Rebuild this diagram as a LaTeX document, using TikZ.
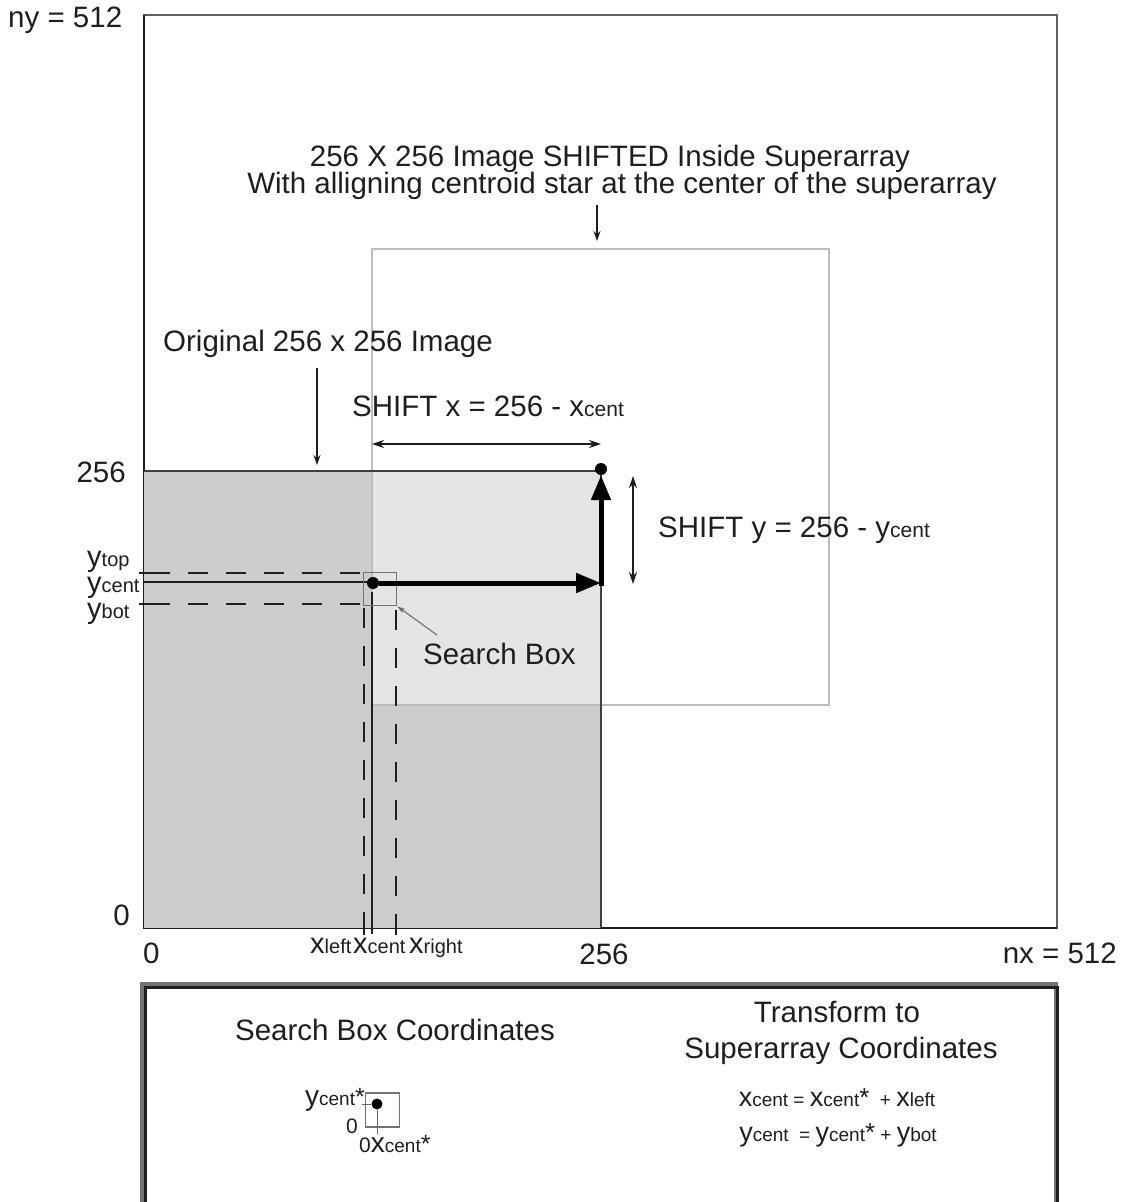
\documentclass[tikz,border=0pt]{standalone}
\usepackage{fontspec}
\setmainfont{Liberation Sans}
\usetikzlibrary{arrows.meta}
\newcommand\myfs[1]{\fontsize{#1}{#1}\selectfont}
\newcommand\msub[1]{{\myfs{20}#1}}
\newcommand\mbig[1]{{\myfs{29}#1}}
\definecolor{txt}{HTML}{1E1E1E}
\definecolor{boxgray}{HTML}{CDCDCD}
\definecolor{overlap}{HTML}{E4E4E4}
\definecolor{shiftline}{HTML}{BDBDBD}
\definecolor{framegray}{HTML}{606060}
\begin{document}
\begin{tikzpicture}[x=1pt,y=-1pt,
  lbl/.style={inner sep=0pt, anchor=base, text=txt, font=\myfs{29.5}},
  thinarrow/.style={line width=1.3pt, draw=txt, -{Stealth[length=10pt,width=7pt]}},
  dblarrow/.style={line width=1.6pt, draw=txt, {Stealth[length=12pt,width=8pt]}-{Stealth[length=12pt,width=8pt]}},
  thickarrow/.style={line width=5pt, draw=black, -{Triangle[length=25pt,width=19pt]}},
  dashthin/.style={line width=1.8pt, draw=txt, dash pattern=on 20pt off 18pt},
  dashthick/.style={line width=2.8pt, draw=txt, dash pattern=on 20pt off 18pt},
  tick/.style={line width=1.8pt, draw=txt},
  dot/.style={circle, fill=black, inner sep=0pt, minimum size=12pt}]
\useasboundingbox (0,0) rectangle (1123,1202);
% outer frame
\draw[line width=2.2pt, framegray] (144,15) rectangle (1057,928);
\draw[line width=2.6pt, txt] (144,15) -- (144,928) -- (1057,928);
% original image
\fill[boxgray] (144,471) rectangle (601,928);
\fill[overlap] (372,471) rectangle (601,705);
% shifted image outline
\draw[line width=2pt, shiftline] (372,249) rectangle (829,705);
% gray box edges
\draw[line width=2.2pt, txt!85] (144,471) -- (601,471) -- (601,928);
% guide lines
\draw[dashthin] (150,573) -- (363,573);
\draw[line width=1.6pt, txt] (144,582) -- (368,582);
\draw[dashthick] (150,604) -- (363,604);
\draw[dashthick] (364,608) -- (364,928);
\draw[line width=1.6pt, txt] (372,592) -- (372,934);
\draw[dashthin] (396,610) -- (396,928);
% ticks
\draw[tick] (139,573) -- (150,573);
\draw[tick] (139,604) -- (150,604);
\draw[tick] (364,915) -- (364,935);
\draw[tick] (396,915) -- (396,935);
% search box
\node[draw=black!55, line width=1.8pt, minimum size=33pt, inner sep=0pt] (sbox) at (380,589) {};
\node[dot] (cdot) at (373,583) {};
\coordinate (hend) at (601,583);
\node[dot] (tdot) at (601,469) {};
\draw[thickarrow] (cdot.east) -- (hend);
\draw[thickarrow] (601,586) -- (tdot.south);
% dimension arrows
\coordinate (dx1) at (372,444);
\coordinate (dx2) at (601,444);
\draw[dblarrow] (dx1) -- (dx2);
\coordinate (dy1) at (633,476);
\coordinate (dy2) at (633,584);
\draw[dblarrow] (dy1) -- (dy2);
% labels
\node[lbl, anchor=base west] (ny) at (8,27) {ny = 512};
\node[lbl] (title1) at (610,166) {256 X 256 Image SHIFTED Inside Superarray};
\node[lbl] (title2) at (622,193) {With alligning centroid star at the center of the superarray};
\coordinate (ta1) at (597,205);
\coordinate (ta2) at (597,241);
\draw[thinarrow] (ta1) -- (ta2);
\node[lbl] (orig) at (328,351) {Original 256 x 256 Image};
\coordinate (oa1) at (317,368);
\coordinate (oa2) at (317,465);
\draw[thinarrow] (oa1) -- (oa2);
\node[lbl, anchor=base west] (shx) at (352,416) {SHIFT x = 256 - x{\myfs{21}cent}};
\node[lbl, anchor=base west] (shy) at (658,537) {SHIFT y = 256 - y{\myfs{21}cent}};
\node[lbl, anchor=base west] (sbl) at (423,664) {Search Box};
\coordinate (sa1) at (437,635);
\draw[line width=1pt, black!60, -{Stealth[length=8pt,width=5pt]}] (sa1) -- (sbox.south east);
\node[lbl, anchor=base east] (l256) at (126,482) {256};
\node[lbl, anchor=base east] (l0) at (130,925) {0};
\node[lbl, anchor=base west] (b0) at (143,963) {0};
\node[lbl] (b256) at (604,964) {256};
\node[lbl, anchor=base east] (nx) at (1117,963) {nx = 512};
\node[lbl, anchor=base west] (ytop) at (87,566) {\mbig{y}\msub{top}};
\node[lbl, anchor=base west] (ycent) at (87,592) {\mbig{y}\msub{cent}};
\node[lbl, anchor=base west] (ybot) at (87,618) {\mbig{y}\msub{bot}};
\node[lbl, anchor=base west] (xleft) at (310,953) {\mbig{x}\msub{left}};
\node[lbl, anchor=base west] (xcent) at (353,953) {\mbig{x}\msub{cent}};
\node[lbl, anchor=base west] (xright) at (409,953) {\mbig{x}\msub{right}};
% bottom box
\draw[line width=4pt, black!55] (142,1206) -- (142,984) -- (1056,984) -- (1056,1206);
\draw[line width=3pt, txt] (145,1206) -- (145,987) -- (1057,987) -- (1057,1206);
\node[lbl] (sbc) at (395,1040) {Search Box Coordinates};
\node[lbl] (tr1) at (837,1022) {Transform to};
\node[lbl] (tr2) at (841,1058) {Superarray Coordinates};
% small search box
\node[draw=black!55, line width=1.8pt, minimum size=34pt, inner sep=0pt] (smbox) at (382.5,1110) {};
\node[dot, minimum size=11pt] (sdot) at (377,1104) {};
\coordinate (st1) at (362,1104);
\draw[line width=1pt, black!60] (st1) -- (sdot.west);
\coordinate (st2) at (377,1134);
\draw[line width=1pt, black!60] (sdot.south) -- (st2);
\node[lbl, anchor=base east] (syc) at (365,1105) {{\myfs{28}y}{\myfs{19}cent}{\myfs{25}*}};
\node[lbl, anchor=base east] (sz0) at (358,1133) {\myfs{21}0};
\node[lbl, anchor=base west] (sxc) at (359,1152) {{\myfs{21}0}{\myfs{28}x}{\myfs{19}cent}{\myfs{25}*}};
% equations
\node[lbl] (eq1) at (837,1106) {{\myfs{27}x}{\myfs{19}cent = }{\myfs{27}x}{\myfs{19}cent}{\myfs{26}*}{\myfs{19}\ \ + }{\myfs{27}x}{\myfs{19}left}};
\node[lbl] (eq2) at (838,1141) {{\myfs{27}y}{\myfs{19}cent \ = }{\myfs{27}y}{\myfs{19}cent}{\myfs{26}*}{\myfs{19} + }{\myfs{27}y}{\myfs{19}bot}};
\end{tikzpicture}
\end{document}
